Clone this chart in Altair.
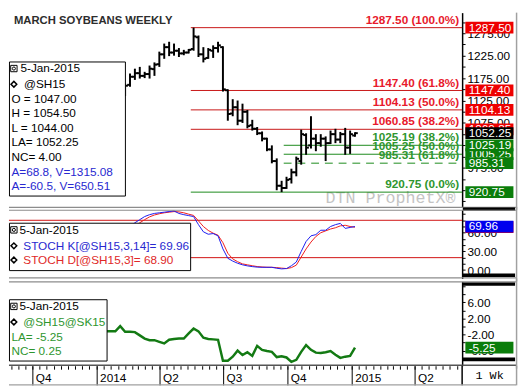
import altair as alt
import pandas as pd

SANS = "Liberation Sans"
MONO = "Liberation Mono"
BASE = pd.Timestamp("2014-01-01")

# ---------------- data ----------------
TITLE = "MARCH SOYBEANS WEEKLY"

bar_dates = [
    "2014-02-10", "2014-02-17", "2014-02-24", "2014-03-03", "2014-03-10",
    "2014-03-17", "2014-03-24", "2014-03-31", "2014-04-07", "2014-04-14",
    "2014-04-21", "2014-04-28", "2014-05-05", "2014-05-12", "2014-05-19",
    "2014-05-26", "2014-06-02", "2014-06-09", "2014-06-16", "2014-06-23",
    "2014-06-30", "2014-07-07", "2014-07-14", "2014-07-21", "2014-07-28",
    "2014-08-04", "2014-08-11", "2014-08-18", "2014-08-25", "2014-09-01",
    "2014-09-08", "2014-09-15", "2014-09-22", "2014-09-29", "2014-10-06",
    "2014-10-13", "2014-10-20", "2014-10-27", "2014-11-03", "2014-11-10",
    "2014-11-17", "2014-11-24", "2014-12-01", "2014-12-08", "2014-12-15",
    "2014-12-22", "2014-12-29", "2015-01-05",
]
bar_open = [1140, 1160, 1178, 1186, 1180, 1184, 1195, 1206, 1228, 1244,
            1232, 1236, 1230, 1232, 1240, 1266, 1228, 1220, 1236, 1242,
            1244, 1148, 1096, 1110, 1080, 1100, 1070, 1062, 1052, 1040,
            1016, 990, 935, 930, 950, 965, 990, 1048, 1025, 1040,
            1030, 1040, 1030, 1050, 1038, 1050, 1020, 1047]
bar_high = [1163, 1185, 1196, 1200, 1189, 1203, 1210, 1234, 1252, 1256,
            1252, 1242, 1238, 1240, 1287.5, 1270, 1244, 1242, 1248, 1256,
            1246, 1150, 1128, 1125, 1118, 1104, 1082, 1066, 1056, 1042,
            1025, 996, 946, 955, 973, 1000, 1060, 1052, 1090, 1050,
            1050, 1045, 1058, 1062, 1055, 1064, 1058, 1054.5]
bar_low = [1135, 1156, 1171, 1174, 1175, 1174, 1180, 1200, 1218, 1224,
           1225, 1222, 1226, 1230, 1236, 1222, 1210, 1218, 1220, 1232,
           1145, 1080, 1090, 1070, 1075, 1063, 1058, 1048, 1034, 1012,
           985, 925, 920.75, 928, 940, 956, 982, 1004, 1018, 1012,
           1022, 990, 1028, 1030, 1030, 1004, 1006, 1044]
bar_close = [1158, 1178, 1186, 1180, 1184, 1196, 1205, 1228, 1244, 1232,
             1236, 1230, 1232, 1238, 1268, 1228, 1218, 1238, 1242, 1248,
             1150, 1095, 1110, 1080, 1100, 1068, 1062, 1052, 1040, 1016,
             990, 935, 930, 948, 965, 995, 1050, 1020, 1040, 1030,
             1040, 1030, 1050, 1038, 1050, 1020, 1050, 1052.25]

ind_dates = ["2014-01-13", "2014-01-20", "2014-01-27", "2014-02-03"] + bar_dates
stoch_k = [55, 58, 60, 62,
           66, 70, 76, 81, 86, 89, 91, 92, 93, 94,
           95, 91, 89, 87.5, 86, 73, 61.5, 57.6, 58.7, 55,
           34, 19, 14.5, 11, 8.5, 6.8, 5.6, 4.8, 4.5, 4.5,
           4.5, 3, 2, 2.5, 7, 13, 30, 46, 55, 57,
           64, 64, 70, 73, 75, 67, 68.5, 69.96]
stoch_d = [52, 55, 58, 60,
           63, 66, 71, 76, 81, 85.5, 88.5, 90.5, 92, 93,
           94, 93.5, 92, 89.8, 87.8, 79, 70, 63.7, 59.3, 56,
           44, 27, 18, 13.5, 10, 8.5, 7, 5.7, 5, 4.6,
           4.5, 4, 3.2, 2.5, 4, 8, 21, 34, 45, 54,
           60, 63, 66, 68, 71, 72, 70, 68.9]
spread = [-1.2, -1.2, -1.2, 0.1,
          -1.3, -1.3, -1.4, -2.2, -3.0, -3.4, -3.4, -3.8, -4.2, -3.3,
          -3.1, -3.0, -3.0, -1.7, -0.5, -1.2, -2.8, -3.1, -3.2, -3.3,
          -8.5, -8.5, -7.5, -6.0, -7.1, -6.4, -7.3, -4.8, -5.8, -6.1,
          -6.3, -7.6, -7.4, -7.7, -8.8, -8.3, -6.3, -4.6, -5.8, -6.5,
          -6.6, -6.4, -6.1, -7.0, -7.8, -7.5, -7.3, -5.25]

fib_levels = [1287.50, 1147.40, 1104.13, 1060.85, 1025.19, 1005.25, 985.31, 920.75]
fib_labels = ["1287.50 (100.0%)", "1147.40 (61.8%)", "1104.13 (50.0%)", "1060.85 (38.2%)",
              "1025.19 (38.2%)", "1005.25 (50.0%)", "985.31 (61.8%)", "920.75 (0.0%)"]
fib_group = ["red", "red", "red", "red", "green", "green", "greendash", "green"]
fib_start = ["2014-05-15", "2014-05-15", "2014-05-15", "2014-05-15",
             "2014-09-25", "2014-09-25", "2014-09-25", "2014-05-15"]

tag1_values = [1287.50, 1147.40, 1104.13, 1060.85, 1052.25, 1005.25, 985.31, 1025.19, 920.75]
tag1_text = ["1287.50", "1147.40", "1104.13", "1060.85", "1052.25", "1005.25", "985.31", "1025.19", "920.75"]
tag1_kind = ["red", "red", "red", "red", "black", "green", "green", "green", "green"]

legend1 = ["O = 1047.00", "H = 1054.50", "L = 1044.00", "LA= 1052.25", "NC= 4.00"]
legend1_blue = ["A=68.8, V=1315.08", "A=-60.5, V=650.51"]
stoch_levels = [80, 20]
tag2_values = [68.90, 69.96]
tag2_text = ["68.90", "69.96"]
tag2_kind = ["red", "blue"]
tag3_values = [-5.25]
tag3_text = ["-5.25"]

quarter_dates = ["2013-10-01", "2014-01-01", "2014-04-01", "2014-07-01",
                 "2014-10-01", "2015-01-01", "2015-04-01"]
quarter_labels = ["Q4", "2014", "Q2", "Q3", "Q4", "2015", "Q2"]

# ---------------- styling ----------------
W = 462
H1, H2, H3, H4 = 198, 70, 86, 17
XMIN, XMAX = -126.19, 522.32
FILL = {"red": "#ee0000", "black": "#000000", "green": "#0a7d0a", "blue": "#0000ee"}
RED_T, GREEN_T = "#e8192c", "#2f962f"
RED_L, GREEN_L = "#c81414", "#1b8a1b"
GRAY = "#8c8c8c"


def days(lst):
    return [(pd.Timestamp(s) - BASE).days for s in lst]


ONE = pd.DataFrame({"a": [0]})
xs = alt.Scale(domain=[XMIN, XMAX], nice=False, zero=False)


def X(f):
    return alt.X(f + ":Q", scale=xs, axis=None)


def raxis(values, expr):
    return alt.Axis(orient="right", values=values, labelExpr=expr, tickSize=3,
                    tickColor="black", tickWidth=1, domainColor="black", domainWidth=1.5,
                    labelPadding=2, labelFont=SANS, labelFontSize=12, labelColor="black",
                    labelFlush=False, labelOverlap=False, grid=False, title=None,
                    labelBaseline="middle")


def T(x, y, s, color="black", size=12, align="left", baseline="middle",
      weight="normal", font=SANS):
    return alt.Chart(ONE).mark_text(align=align, baseline=baseline, fontSize=size, font=font,
                                    fontWeight=weight, color=color).encode(
        x=alt.value(x), y=alt.value(y), text=alt.value(s))


def HR(y, x1, x2, color, w=1.0):
    return alt.Chart(ONE).mark_rule(color=color, strokeWidth=w).encode(
        x=alt.value(x1), x2=alt.value(x2), y=alt.value(y))


def VR(x, y1, y2, color, w=1.0):
    return alt.Chart(ONE).mark_rule(color=color, strokeWidth=w).encode(
        x=alt.value(x), y=alt.value(y1), y2=alt.value(y2))


def BOX(x1, y1, x2, y2, fill="white", stroke="black"):
    kw = dict(fill=fill, opacity=1)
    if stroke:
        kw["stroke"] = stroke
        kw["strokeWidth"] = 1
    return alt.Chart(ONE).mark_rect(**kw).encode(
        x=alt.value(x1), x2=alt.value(x2), y=alt.value(y1), y2=alt.value(y2))


def ICON(x, y):
    sq = alt.Chart(ONE).mark_point(shape="square", size=42, filled=False, color="black",
                                   strokeWidth=1, opacity=1).encode(x=alt.value(x), y=alt.value(y))
    ci = alt.Chart(ONE).mark_point(shape="circle", size=10, filled=False, color="black",
                                   strokeWidth=1, opacity=1).encode(x=alt.value(x), y=alt.value(y))
    return [sq, ci]


def DIAM(x, y):
    return alt.Chart(ONE).mark_point(shape="diamond", size=34, filled=False, color="black",
                                     strokeWidth=1.5, opacity=1).encode(x=alt.value(x), y=alt.value(y))


def tags(values, texts, kinds, Yf):
    out = []
    for v, s, k in zip(values, texts, kinds):
        d = pd.DataFrame({"v": [v], "t": [s]})
        out.append(alt.Chart(d).mark_rule(color=FILL[k], strokeWidth=12, strokeCap="butt").encode(
            x=alt.value(465.3), x2=alt.value(514.3), y=Yf("v")))
        out.append(alt.Chart(d).mark_text(align="left", baseline="middle", color="white",
                                          font=SANS, fontSize=12).encode(
            x=alt.value(468.7), y=Yf("v"), text="t:N"))
    return out


# ---------------- panel 1: price ----------------
sc1 = alt.Scale(domain=[887.95, 1320.96], nice=False, zero=False)
ax1 = raxis(list(range(900, 1301, 25)),
            "datum.value % 50 == 25 ? format(datum.value, '.2f') : ''")


def Y1(f):
    return alt.Y(f + ":Q", scale=sc1, axis=ax1, title=None)


bars = pd.DataFrame({"day": days(bar_dates), "o": bar_open, "h": bar_high,
                     "l": bar_low, "c": bar_close})
bars["dl"] = bars["day"] - 4
bars["dr"] = bars["day"] + 4

fib = pd.DataFrame({"level": fib_levels, "label": fib_labels, "grp": fib_group,
                    "start": days(fib_start)})

L1 = []
L1.append(T(389, 194, "DTN ProphetX\u00ae", color="#c4c4c4", size=17, align="center",
            baseline="alphabetic", font=MONO))
for grp, col, dash in [("red", RED_L, None), ("green", GREEN_L, None), ("greendash", GREEN_L, [8, 6])]:
    kw = dict(color=col, strokeWidth=1)
    if dash:
        kw["strokeDash"] = dash
    L1.append(alt.Chart(fib[fib.grp == grp]).mark_rule(**kw).encode(
        x=X("start"), x2=alt.value(W), y=Y1("level")))
for grp, col in [("red", RED_T), ("green", GREEN_T)]:
    sub = fib[fib.grp.str.startswith(grp)]
    L1.append(alt.Chart(sub).mark_text(align="right", baseline="alphabetic", dy=-4, font=SANS,
                                       fontSize=12, fontWeight="bold", color=col).encode(
        x=alt.value(459), y=Y1("level"), text="label:N"))
L1.append(alt.Chart(bars).mark_rule(color="black", strokeWidth=2).encode(
    x=X("day"), y=Y1("l"), y2=alt.Y2("h")))
L1.append(alt.Chart(bars).mark_rule(color="black", strokeWidth=2).encode(
    x=X("dl"), x2=alt.X2("day"), y=Y1("o")))
L1.append(alt.Chart(bars).mark_rule(color="black", strokeWidth=2).encode(
    x=X("day"), x2=alt.X2("dr"), y=Y1("c")))
L1.append(T(5, 9, TITLE, color="#2d2d2d", size=11.5, weight="bold"))
L1.append(BOX(0.5, 50.3, 118.7, 187))
L1 += ICON(5, 57)
L1.append(T(11.7, 57, "5-Jan-2015"))
L1.append(DIAM(5, 73))
L1.append(T(15.3, 73, "@SH15"))
for i, s in enumerate(legend1):
    L1.append(T(2.5, 87.7 + 14.9 * i, s))
for i, s in enumerate(legend1_blue):
    L1.append(T(2.5, 162.7 + 14.3 * i, s, color="#2828d0"))
L1 += tags(tag1_values, tag1_text, tag1_kind, Y1)
L1.append(HR(198.5, 0, 517, GRAY, 1.2))
L1.append(VR(517.5, 0, 201, "#a0a0a0", 1.5))
p1 = alt.layer(*L1).properties(width=W, height=H1)

# ---------------- panel 2: stochastics ----------------
ind = pd.DataFrame({"day": days(ind_dates), "k": stoch_k, "d": stoch_d, "s": spread})
sc2 = alt.Scale(domain=[-13.39, 96.85], nice=False, zero=False)
ax2 = raxis(list(range(0, 100, 10)),
            "(datum.value == 0 || datum.value == 30 || datum.value == 60) ? format(datum.value, '.2f') : ''")


def Y2(f):
    return alt.Y(f + ":Q", scale=sc2, axis=ax2, title=None)


L2 = []
L2.append(alt.Chart(pd.DataFrame({"lv": stoch_levels})).mark_rule(color="#d01010", strokeWidth=1).encode(
    x=alt.value(0), x2=alt.value(W), y=Y2("lv")))
L2.append(alt.Chart(ind).mark_line(color="#f01c1c", strokeWidth=1, clip=True).encode(
    x=X("day"), y=Y2("d")))
L2.append(alt.Chart(ind).mark_line(color="#1c1cf0", strokeWidth=1, clip=True).encode(
    x=X("day"), y=Y2("k")))
L2.append(BOX(0.5, 13.7, 185.2, 62))
L2 += ICON(5, 20.5)
L2.append(T(10.6, 20.5, "5-Jan-2015"))
L2.append(DIAM(5, 36.7))
L2.append(T(14.6, 36.7, "STOCH K[@SH15,3,14]= 69.96", color="#2828d0"))
L2.append(DIAM(5, 51.2))
L2.append(T(14.6, 51.2, "STOCH D[@SH15,3]= 68.90", color="#e02828"))
L2 += tags(tag2_values, tag2_text, tag2_kind, Y2)
L2.append(BOX(462.7, -2.3, 516, 1, fill="black", stroke=None))
L2.append(BOX(462.7, 65, 516, 68.5, fill="black", stroke=None))
L2.append(HR(0.5, 0, 517, GRAY, 1.2))
L2.append(HR(69.5, 0, 517, GRAY, 1.2))
L2.append(VR(517.5, -3, 73, "#a0a0a0", 1.5))
p2 = alt.layer(*L2).properties(width=W, height=H2)

# ---------------- panel 3: spread ----------------
sc3 = alt.Scale(domain=[-9.756, 11.22], nice=False, zero=False)
ax3 = raxis(list(range(-8, 11, 2)),
            "(abs(datum.value) == 2 || abs(datum.value) == 6) ? (datum.value < 0 ? '-' : '') + format(abs(datum.value), '.2f') : ''")


def Y3(f):
    return alt.Y(f + ":Q", scale=sc3, axis=ax3, title=None)


L3 = []
L3.append(alt.Chart(ind).mark_line(color="#137a13", strokeWidth=2.5, clip=True).encode(
    x=X("day"), y=Y3("s")))
L3.append(BOX(0.5, 18.7, 100, 81.2))
L3 += ICON(5, 25.5)
L3.append(T(10.6, 25.5, "5-Jan-2015"))
L3.append(DIAM(5, 41.4))
L3.append(T(14.6, 41.4, "@SH15@SK15", color=GREEN_T))
L3.append(T(2.5, 56.6, "LA= -5.25", color=GREEN_T))
L3.append(T(2.5, 71.1, "NC= 0.25", color=GREEN_T))
L3 += tags(tag3_values, tag3_text, ["green"], Y3)
L3.append(BOX(462.7, 1, 516, 4.5, fill="black", stroke=None))
L3.append(BOX(462.7, 77.5, 516, 81.5, fill="black", stroke=None))
L3.append(HR(0.5, 0, 517, GRAY, 1.2))
L3.append(HR(85.5, 0, 517, "#555555", 1.5))
L3.append(VR(517.5, -3, 89, "#a0a0a0", 1.5))
p3 = alt.layer(*L3).properties(width=W, height=H3)

# ---------------- panel 4: date strip (starts 3px below panel 3) ----------------
tick_days = []
for yy in (2013, 2014, 2015):
    for mm in range(1, 13):
        for dd in (1, 11, 21):
            dv = (pd.Timestamp(year=yy, month=mm, day=dd) - BASE).days
            if XMIN <= dv <= XMAX:
                tick_days.append(dv)
ticks = pd.DataFrame({"day": tick_days})
quarters = pd.DataFrame({"day": days(quarter_dates), "lab": quarter_labels})

L4 = []
L4.append(alt.Chart(ticks).mark_rule(color="black", strokeWidth=1).encode(
    x=X("day"), y=alt.value(-2.5), y2=alt.value(1)))
L4.append(alt.Chart(quarters).mark_rule(color="black", strokeWidth=1).encode(
    x=X("day"), y=alt.value(-2.5), y2=alt.value(17)))
L4.append(alt.Chart(quarters).mark_text(align="left", baseline="middle", dx=3, font=SANS,
                                        fontSize=12, color="black").encode(
    x=X("day"), y=alt.value(9.7), text="lab:N"))
L4.append(VR(462, -3, 17, "black", 1.5))
L4.append(T(490, 6.5, "1 Wk", font=MONO, size=12, align="center"))
L4.append(HR(16.5, 0, 517, "#a0a0a0", 1.5))
L4.append(VR(517.5, -3, 17, "#a0a0a0", 1.5))
p4 = alt.layer(*L4).properties(width=W, height=H4)

chart = alt.vconcat(p1, p2, p3, p4, spacing=3, bounds="flush").properties(
    padding=0).configure_view(strokeWidth=0)

chart.save("out.html", embed_options={"renderer": "svg", "actions": False})
